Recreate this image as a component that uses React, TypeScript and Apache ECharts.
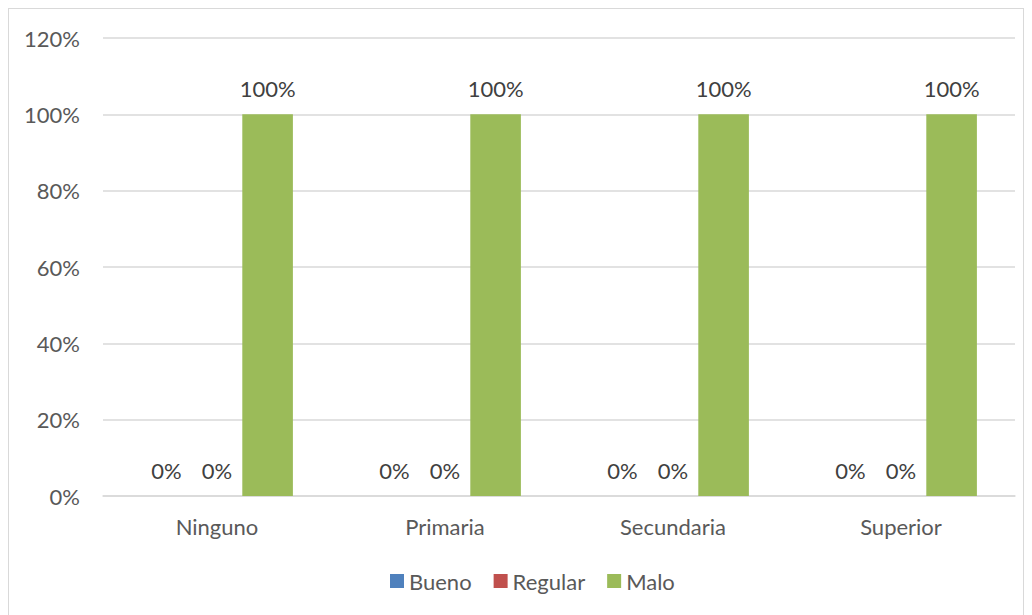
import React, { useEffect, useRef } from "react";
import * as echarts from "echarts";

// Education levels on the x axis
const categories = ["Ninguno", "Primaria", "Secundaria", "Superior"];

// Share of each rating per level (percent)
const bueno = [0, 0, 0, 0];
const regular = [0, 0, 0, 0];
const malo = [100, 100, 100, 100];

const seriesNames = ["Bueno", "Regular", "Malo"];
const seriesColors = ["#4F81BD", "#C0504D", "#9BBB59"];

const FONT = "Lato, 'Open Sans', sans-serif";

export default function App() {
  const ref = useRef<HTMLDivElement>(null);

  useEffect(() => {
    if (!ref.current) return;
    const chart = echarts.init(ref.current, undefined, { renderer: "svg" });
    const values = [bueno, regular, malo];
    chart.setOption({
      animation: false,
      textStyle: { fontFamily: FONT },
      grid: { left: 94, right: 8, top: 29, bottom: 126, containLabel: false },
      legend: {
        data: seriesNames,
        left: 376,
        top: 556,
        icon: "rect",
        itemWidth: 14,
        itemHeight: 14,
        itemGap: 22,
        textStyle: { fontFamily: FONT, fontSize: 22, color: "#595959" },
      },
      xAxis: {
        type: "category",
        data: categories,
        axisLine: { lineStyle: { color: "#d9d9d9", width: 1.5 } },
        axisTick: { show: false },
        axisLabel: { fontFamily: FONT, fontSize: 22, color: "#595959", margin: 19 },
      },
      yAxis: {
        type: "value",
        min: 0,
        max: 120,
        interval: 20,
        axisLine: { show: false },
        axisTick: { show: false },
        axisLabel: {
          formatter: "{value}%",
          fontFamily: FONT,
          fontSize: 22,
          color: "#595959",
          margin: 23,
        },
        splitLine: { lineStyle: { color: "#d9d9d9", width: 1.5 } },
      },
      series: seriesNames.map((name, i) => ({
        name,
        type: "bar",
        data: values[i],
        barWidth: 50.6,
        barGap: "0%",
        itemStyle: { color: seriesColors[i] },
        label: {
          show: true,
          position: "top",
          distance: 15,
          formatter: "{c}%",
          fontFamily: FONT,
          fontSize: 22,
          color: "#404040",
        },
      })),
    });
    return () => chart.dispose();
  }, []);

  return (
    <div
      ref={ref}
      style={{
        width: 1016,
        height: 615,
        border: "1.5px solid #d9d9d9",
        boxSizing: "border-box",
        background: "#fff",
      }}
    />
  );
}
